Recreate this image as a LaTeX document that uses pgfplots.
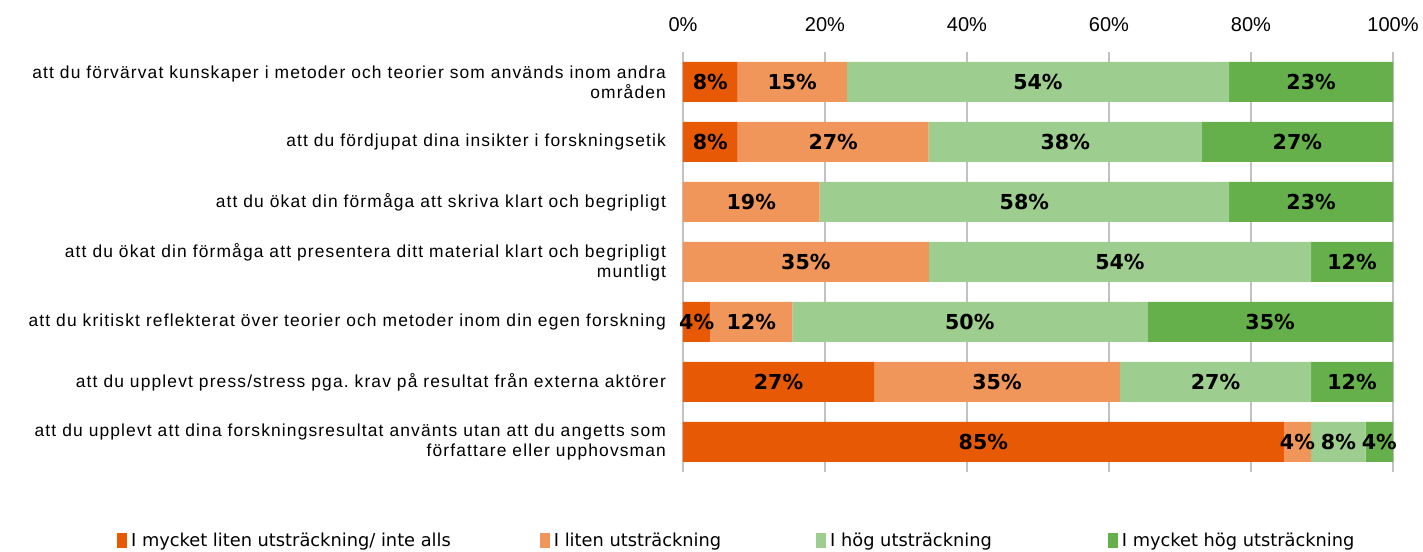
\documentclass[border=0pt]{standalone}
\usepackage{pgfplots}
\pgfplotsset{compat=1.18}
\usepackage{fontspec}
\setmainfont{Liberation Sans}
\newfontfamily\catfont[LetterSpace=6.6]{Liberation Sans}
\newfontfamily\dejavu{DejaVu Sans}
\definecolor{c1}{RGB}{232,89,5}
\definecolor{c2}{RGB}{240,150,90}
\definecolor{c3}{RGB}{157,205,143}
\definecolor{c4}{RGB}{101,176,74}
\frenchspacing
\begin{document}
\begin{tikzpicture}
\begin{axis}[name=ax, scale only axis, width=355pt, height=210pt,
  xbar stacked, bar width=20pt,
  xmin=0, xmax=100, ymin=-0.5, ymax=6.5, y dir=reverse,
  xtick={0,20,...,100}, xticklabel pos=upper,
  xticklabel={\pgfmathprintnumber{\tick}\%},
  ytick={0,...,6},
  yticklabels={{att du förvärvat kunskaper i metoder och teorier som används inom andra\\områden},
    {att du fördjupat dina insikter i forskningsetik},
    {att du ökat din förmåga att skriva klart och begripligt},
    {att du ökat din förmåga att presentera ditt material klart och begripligt\\muntligt},
    {att du kritiskt reflekterat över teorier och metoder inom din egen forskning},
    {att du upplevt press/stress pga.\ krav på resultat från externa aktörer},
    {att du upplevt att dina forskningsresultat använts utan att du angetts som\\författare eller upphovsman}},
  major tick length=0, axis line style={draw=none},
  xmajorgrids, grid style={draw=black!24, line width=0.6pt},
  /pgf/number format/assume math mode=true,
  xticklabel style={font=\fontsize{10}{12}\selectfont, anchor=south, yshift=6.5pt},
  yticklabel style={font=\catfont\fontsize{8.7}{10}\selectfont, align=right, xshift=-5pt},
  point meta=explicit,
  nodes near coords={\pgfmathfloatifflags{\pgfplotspointmeta}{0}{}{\pgfmathprintnumber{\pgfplotspointmeta}\%}},
  every node near coord/.append style={font=\dejavu\bfseries\fontsize{10.3}{12}\selectfont, text=black},
  legend columns=4, legend cell align=left,
  legend style={at={(-0.806,-0.164)}, anchor=west, draw=none, fill=none,
    font=\dejavu\fontsize{8.9}{11}\selectfont,
    /tikz/column 2/.style={column sep=42.5pt},
    /tikz/column 4/.style={column sep=45.5pt},
    /tikz/column 6/.style={column sep=56pt}},
  legend image code/.code={\fill[#1,draw=none] (0pt,-3.75pt) rectangle (5pt,3.75pt);},
]
\addplot[fill=c1, draw=none] coordinates {(7.69,0)[8] (7.69,1)[8] (0,2)[0] (0,3)[0] (3.85,4)[4] (26.92,5)[27] (84.62,6)[85]};
\addplot[fill=c2, draw=none] coordinates {(15.38,0)[15] (26.92,1)[27] (19.23,2)[19] (34.62,3)[35] (11.54,4)[12] (34.62,5)[35] (3.85,6)[4]};
\addplot[fill=c3, draw=none] coordinates {(53.85,0)[54] (38.46,1)[38] (57.69,2)[58] (53.84,3)[54] (50,4)[50] (26.92,5)[27] (7.69,6)[8]};
\addplot[fill=c4, draw=none] coordinates {(23.08,0)[23] (26.92,1)[27] (23.08,2)[23] (11.54,3)[12] (34.61,4)[35] (11.54,5)[12] (3.84,6)[4]};
\legend{I mycket liten utsträckning/ inte alls, I liten utsträckning, I hög utsträckning, I mycket hög utsträckning}
\end{axis}
\pgfresetboundingbox
\path ([xshift=-341.5pt,yshift=26pt]ax.north west) rectangle ([xshift=15pt,yshift=-40pt]ax.south east);
\end{tikzpicture}
\end{document}
